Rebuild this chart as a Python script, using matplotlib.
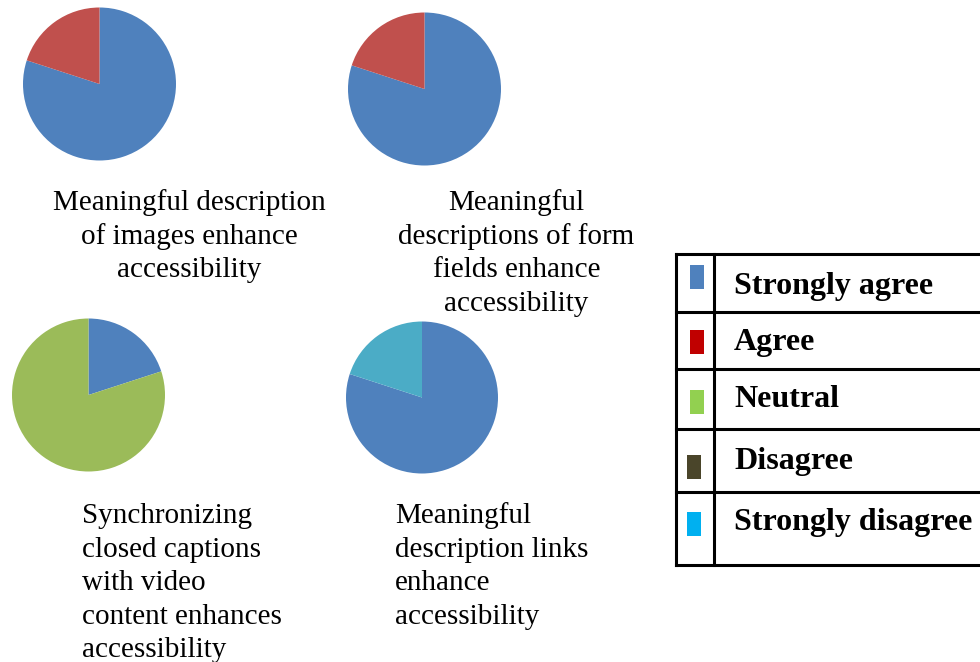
import matplotlib
matplotlib.use('Agg')
from matplotlib import pyplot as plt
from matplotlib.patches import Rectangle

plt.rcParams['font.family'] = ['Liberation Serif', 'DejaVu Serif']

W, H = 980, 662

# response categories (legend order)
categories = ['Strongly agree', 'Agree', 'Neutral', 'Disagree', 'Strongly disagree']
legend_colors = ['#4F81BD', '#C00000', '#92D050', '#4A452A', '#00B0F0']
pie_colors = ['#4F81BD', '#C0504D', '#9BBB59', '#8064A2', '#4BACC6']

# percentage of responses per statement, in category order
images_desc = [80, 20, 0, 0, 0]
form_fields = [80, 20, 0, 0, 0]
captions_sync = [20, 0, 80, 0, 0]
links_desc = [80, 0, 0, 0, 20]

captions = [
    ['Meaningful description', 'of images enhance', 'accessibility'],
    ['Meaningful', 'descriptions of form', 'fields enhance', 'accessibility'],
    ['Synchronizing', 'closed captions', 'with video', 'content enhances', 'accessibility'],
    ['Meaningful', 'description links', 'enhance', 'accessibility'],
]

fig = plt.figure(figsize=(W / 100, H / 100), dpi=100)
canvas = fig.add_axes([0, 0, 1, 1])
canvas.set_xlim(0, W)
canvas.set_ylim(H, 0)
canvas.axis('off')

# (center x, center y, radius) in pixels
pie_boxes = [(99.5, 84, 76.5), (424.5, 89, 76.5), (88.5, 395, 76.5), (422, 397.5, 76)]
pie_data = [images_desc, form_fields, captions_sync, links_desc]

for (cx, cy, r), vals in zip(pie_boxes, pie_data):
    ax = fig.add_axes([(cx - r) / W, (H - cy - r) / H, 2 * r / W, 2 * r / H])
    keep = [i for i, v in enumerate(vals) if v > 0]
    ax.pie([vals[i] for i in keep], colors=[pie_colors[i] for i in keep],
           startangle=90, counterclock=False, radius=1,
           wedgeprops=dict(linewidth=0))
    ax.set_xlim(-1, 1)
    ax.set_ylim(-1, 1)
    ax.set_aspect('equal')
    ax.axis('off')

pitch = 33.6
fs = 21
# centred captions on the top row
for lines, xc in zip(captions[:2], [189.5, 516.5]):
    for k, line in enumerate(lines):
        canvas.text(xc, 210 + k * pitch, line, fontsize=fs, ha='center', va='baseline')
# left-aligned captions on the bottom row
for lines, xl in zip(captions[2:], [82, 395]):
    for k, line in enumerate(lines):
        canvas.text(xl, 523 + k * pitch, line, fontsize=fs, ha='left', va='baseline')

# legend table
lw = 2.2
top, bottom, left, divider = 254, 565, 675.5, 714
row_lines = [311.5, 369, 429, 492]
canvas.plot([left, left], [top, bottom], color='black', lw=lw, solid_capstyle='projecting')
canvas.plot([divider, divider], [top, bottom], color='black', lw=lw)
for y in [top, bottom] + row_lines:
    canvas.plot([left, W + 5], [y, y], color='black', lw=lw, solid_capstyle='projecting')

swatches = [(690, 265), (690, 330), (690, 390), (687, 455), (687, 512)]
baselines = [294, 350, 407, 469, 530]
for cat, col, (sx, sy), by in zip(categories, legend_colors, swatches, baselines):
    canvas.add_patch(Rectangle((sx, sy), 13.5, 24, facecolor=col, edgecolor='none'))
    canvas.text(734, by, cat, fontsize=23, fontweight='bold', ha='left', va='baseline')

fig.savefig('out.png', dpi=100)
